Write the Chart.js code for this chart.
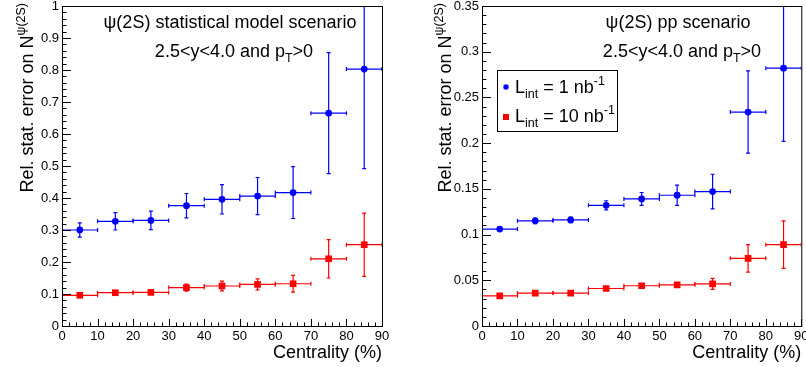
<!DOCTYPE html>
<html>
<head>
<meta charset="utf-8">
<script src="https://cdn.jsdelivr.net/npm/chart.js@4.4.1/dist/chart.umd.min.js"></script>
<style>
html, body { margin: 0; padding: 0; background: #fff; overflow: hidden; }
#wrap { position: relative; width: 806px; height: 367px; }
canvas { position: absolute; top: 0; }
</style>
</head>
<body>
<div id="wrap">
  <canvas id="left" width="403" height="367" style="left:0"></canvas>
  <canvas id="right" width="403" height="367" style="left:403px"></canvas>
</div>
<script>
// centrality bins (bin centre and half width)
const centrality = [5, 15, 25, 35, 45, 55, 65, 75, 85];
const binHalfWidth = [5, 5, 5, 5, 5, 5, 5, 5, 5];
const xTicks = [0, 10, 20, 30, 40, 50, 60, 70, 80, 90];
const xTickLabels = ["0", "10", "20", "30", "40", "50", "60", "70", "80", "90"];

// statistical model scenario
const statModel1nb = [0.300, 0.327, 0.330, 0.376, 0.396, 0.406, 0.417, 0.665, 0.803];
const statModel1nbErr = [0.022, 0.027, 0.029, 0.038, 0.046, 0.058, 0.081, 0.189, 0.311];
const statModel10nb = [0.096, 0.104, 0.105, 0.120, 0.125, 0.130, 0.132, 0.210, 0.254];
const statModel10nbErr = [0.006, 0.006, 0.006, 0.011, 0.015, 0.017, 0.026, 0.060, 0.099];
const statModelYTicks = [0, 0.1, 0.2, 0.3, 0.4, 0.5, 0.6, 0.7, 0.8, 0.9, 1];
const statModelYLabels = ["0", "0.1", "0.2", "0.3", "0.4", "0.5", "0.6", "0.7", "0.8", "0.9", "1"];

// pp scenario
const pp1nb = [0.106, 0.115, 0.116, 0.132, 0.139, 0.143, 0.147, 0.234, 0.282];
const pp1nbErr = [0.002, 0.003, 0.003, 0.005, 0.007, 0.011, 0.019, 0.045, 0.080];
const pp10nb = [0.033, 0.036, 0.036, 0.041, 0.044, 0.045, 0.046, 0.074, 0.089];
const pp10nbErr = [0.001, 0.001, 0.001, 0.002, 0.002, 0.002, 0.006, 0.015, 0.026];
const ppYTicks = [0, 0.05, 0.1, 0.15, 0.2, 0.25, 0.3, 0.35];
const ppYLabels = ["0", "0.05", "0.1", "0.15", "0.2", "0.25", "0.3", "0.35"];

const FONT = '"Liberation Sans", Arial, Helvetica, sans-serif';
const BLUE = "#0000ff";
const RED = "#ff0000";

// draws a run of text pieces with sizes and vertical shifts (sub/superscripts)
function richText(ctx, parts, x, y, align) {
    let w = 0;
    parts.forEach(p => {
        ctx.font = p[1] + "px " + FONT;
        w += ctx.measureText(p[0]).width;
    });
    let cx = x;
    if (align === "center") cx = x - w / 2;
    if (align === "right") cx = x - w;
    ctx.textAlign = "left";
    ctx.textBaseline = "alphabetic";
    parts.forEach(p => {
        ctx.font = p[1] + "px " + FONT;
        ctx.fillText(p[0], cx, y + p[2]);
        cx += ctx.measureText(p[0]).width;
    });
}

function makePanel(canvasId, cfg) {
    const W = 403;

    const rootStyle = {
        id: "rootStyle",
        beforeDatasetsDraw(chart) {
            const ctx = chart.ctx;
            const xs = chart.scales.x, ys = chart.scales.y;
            const area = chart.chartArea;
            ctx.save();
            ctx.beginPath();
            ctx.rect(area.left, area.top, area.right - area.left, area.bottom - area.top);
            ctx.clip();
            ctx.lineWidth = 1.2;
            cfg.errors.forEach((errs, di) => {
                const ds = chart.data.datasets[di];
                ctx.strokeStyle = ds.backgroundColor;
                ds.data.forEach((pt, i) => {
                    const px = xs.getPixelForValue(pt.x);
                    const py = ys.getPixelForValue(pt.y);
                    const x0 = xs.getPixelForValue(pt.x - binHalfWidth[i]);
                    const x1 = xs.getPixelForValue(pt.x + binHalfWidth[i]);
                    const y0 = ys.getPixelForValue(pt.y - errs[i]);
                    const y1 = ys.getPixelForValue(pt.y + errs[i]);
                    ctx.beginPath();
                    ctx.moveTo(x0, py); ctx.lineTo(x1, py);
                    ctx.moveTo(px, y0); ctx.lineTo(px, y1);
                    // small end caps
                    ctx.moveTo(x0, py - 2); ctx.lineTo(x0, py + 2);
                    ctx.moveTo(x1, py - 2); ctx.lineTo(x1, py + 2);
                    ctx.moveTo(px - 2, y0); ctx.lineTo(px + 2, y0);
                    ctx.moveTo(px - 2, y1); ctx.lineTo(px + 2, y1);
                    ctx.stroke();
                });
            });
            ctx.restore();
        },
        afterDraw(chart) {
            const ctx = chart.ctx;
            const xs = chart.scales.x, ys = chart.scales.y;
            const a = chart.chartArea;
            ctx.save();
            ctx.strokeStyle = "#000";
            ctx.fillStyle = "#000";
            ctx.lineWidth = 1;

            // frame
            ctx.strokeRect(a.left + 0.5, a.top + 0.5, a.right - a.left, a.bottom - a.top);

            // inward ticks, ROOT style
            ctx.beginPath();
            for (let v = xs.min; v <= xs.max + 1e-9; v += cfg.xMinor) {
                const p = Math.round(xs.getPixelForValue(v)) + 0.5;
                const major = Math.abs(v / 10 - Math.round(v / 10)) < 1e-6;
                ctx.moveTo(p, a.bottom);
                ctx.lineTo(p, a.bottom - (major ? 7 : 3.5));
            }
            for (let k = 0; k * cfg.yMinor <= ys.max + 1e-9; k++) {
                const v = k * cfg.yMinor;
                const p = Math.round(ys.getPixelForValue(v)) + 0.5;
                const major = k % 5 === 0;
                ctx.moveTo(a.left, p);
                ctx.lineTo(a.left + (major ? 9 : 4.5), p);
            }
            ctx.stroke();

            // x title
            richText(ctx, [["Centrality (%)", 18, 0]], a.right, 358, "right");

            // y title, rotated
            ctx.save();
            ctx.translate(cfg.yTitleX, 3);
            ctx.rotate(-Math.PI / 2);
            richText(ctx, [["Rel. stat. error on N", 18, 0], ["\u03c8(2S)", 12.5, -8]], 0, 0, "right");
            ctx.restore();

            // in-frame labels
            richText(ctx, [[cfg.title, 18, 0]], cfg.titleX, 28, "center");
            richText(ctx, [["2.5<y<4.0 and p", 18, 0], ["T", 12.5, 5], [">0", 18, 0]], cfg.titleX + 4, 57, "center");

            // legend
            if (cfg.legend) {
                const L = cfg.legend;
                ctx.strokeRect(L.x + 0.5, L.y + 0.5, L.w, L.h);
                ctx.fillStyle = BLUE;
                ctx.beginPath();
                ctx.arc(L.x + 9, L.y + 17, 2.7, 0, Math.PI * 2);
                ctx.fill();
                ctx.fillStyle = RED;
                ctx.fillRect(L.x + 6, L.y + 44, 6, 6);
                ctx.fillStyle = "#000";
                richText(ctx, [["L", 18, 0], ["int", 12.5, 5], [" = 1 nb", 18, 0], ["-1", 12.5, -8]], L.x + 18, L.y + 23, "left");
                richText(ctx, [["L", 18, 0], ["int", 12.5, 5], [" = 10 nb", 18, 0], ["-1", 12.5, -8]], L.x + 18, L.y + 52, "left");
            }
            ctx.restore();
        }
    };

    return new Chart(document.getElementById(canvasId), {
        type: "scatter",
        data: {
            datasets: [
                {
                    label: "L_int = 1 nb-1",
                    data: centrality.map((c, i) => ({ x: c, y: cfg.series[0][i] })),
                    backgroundColor: BLUE,
                    borderWidth: 0,
                    pointStyle: "circle",
                    pointRadius: 3.4
                },
                {
                    label: "L_int = 10 nb-1",
                    data: centrality.map((c, i) => ({ x: c, y: cfg.series[1][i] })),
                    backgroundColor: RED,
                    borderWidth: 0,
                    pointStyle: "rect",
                    pointRadius: 4.7
                }
            ]
        },
        options: {
            responsive: false,
            animation: false,
            layout: { padding: { top: 6, right: W - cfg.right, left: 0, bottom: 0 } },
            plugins: { legend: { display: false }, tooltip: { enabled: false } },
            scales: {
                x: {
                    type: "linear",
                    min: 0,
                    max: 90,
                    grid: { display: false, drawTicks: false },
                    border: { display: false },
                    afterBuildTicks: s => { s.ticks = xTicks.map(v => ({ value: v })); },
                    ticks: {
                        font: { family: FONT, size: 13 },
                        color: "#000",
                        padding: 3,
                        maxRotation: 0,
                        autoSkip: false,
                        callback: (v, i) => xTickLabels[i]
                    },
                    afterFit: s => { s.height = 41; s.paddingLeft = 0; s.paddingRight = 0; }
                },
                y: {
                    type: "linear",
                    min: 0,
                    max: cfg.yMax,
                    grid: { display: false, drawTicks: false },
                    border: { display: false },
                    afterBuildTicks: s => { s.ticks = cfg.yTicks.map(v => ({ value: v })); },
                    ticks: {
                        font: { family: FONT, size: 13 },
                        color: "#000",
                        padding: 3,
                        autoSkip: false,
                        callback: (v, i) => cfg.yLabels[i]
                    },
                    afterFit: s => { s.width = cfg.left; s.paddingTop = 0; s.paddingBottom = 0; }
                }
            }
        },
        plugins: [rootStyle]
    });
}

makePanel("left", {
    series: [statModel1nb, statModel10nb],
    errors: [statModel1nbErr, statModel10nbErr],
    yMax: 1,
    yTicks: statModelYTicks,
    yLabels: statModelYLabels,
    yMinor: 0.02,
    xMinor: 2,
    left: 62,
    right: 382,
    yTitleX: 33,
    title: "\u03c8(2S) statistical model scenario",
    titleX: 230
});

makePanel("right", {
    series: [pp1nb, pp10nb],
    errors: [pp1nbErr, pp10nbErr],
    yMax: 0.35,
    yTicks: ppYTicks,
    yLabels: ppYLabels,
    yMinor: 0.01,
    xMinor: 2,
    left: 79,
    right: 399,
    yTitleX: 48,
    title: "\u03c8(2S) pp scenario",
    titleX: 275,
    legend: { x: 94, y: 70, w: 120, h: 61 }
});
</script>
</body>
</html>
